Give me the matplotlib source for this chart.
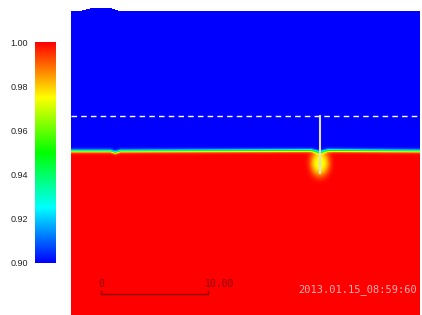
import numpy as np
import matplotlib
matplotlib.use("Agg")
import matplotlib.pyplot as plt
from matplotlib.colors import LinearSegmentedColormap

# domain, physical units (scale bar = 10.00)
domain_w = 32.6
domain_h = 29.44

# free surface (top of fluid)
surf_x = [0.0, 0.84, 1.78, 2.71, 3.64, 4.39, 32.6]
surf_h = [28.41, 28.46, 28.69, 28.76, 28.74, 28.50, 28.50]

# interface between the two fluids
intf_x = [0.0, 3.64, 4.11, 4.58, 22.5, 23.27, 24.0, 32.6]
intf_h = [15.33, 15.33, 15.19, 15.33, 15.38, 15.2, 15.38, 15.33]

# mixed plume below the interface
plume_x = 23.27
plume_y = 14.2
plume_depth = 0.026

# probe / guide lines
probe_level = 18.6
probe_bottom = 13.28

vmin, vmax = 0.90, 1.00
cbar_ticks = [0.90, 0.92, 0.94, 0.96, 0.98, 1.00]
stamp = "2013.01.15_08:59:60"

cmap = LinearSegmentedColormap.from_list(
    "rainbow5", ["#0000ff", "#00ffff", "#00ff00", "#ffff00", "#ff0000"])
cmap.set_bad("white")

nx, ny = 349, 315
xs = np.linspace(0, domain_w, nx)
ys = np.linspace(0, domain_h, ny)
X, Y = np.meshgrid(xs, ys)

h = np.interp(xs, intf_x, intf_h)[None, :]
top = np.interp(xs, surf_x, surf_h)[None, :]
field = vmin + (vmax - vmin) / (1 + np.exp(-(h - Y) / 0.08))
r2 = ((X - plume_x) / 0.9) ** 2 + ((Y - plume_y) / 1.25) ** 2
field = field - plume_depth * np.exp(-r2 ** 1.5) * (Y < h)
field = np.where(Y > top, np.nan, field)

fig = plt.figure(figsize=(4.22, 3.15), dpi=100)
ax = fig.add_axes([71 / 422, 0, 349 / 422, 1])
ax.imshow(field, origin="lower", extent=[0, domain_w, 0, domain_h],
          cmap=cmap, vmin=vmin, vmax=vmax, aspect="auto", interpolation="bilinear")
ax.set_xlim(0, domain_w)
ax.set_ylim(0, domain_h)
ax.axis("off")

ax.axhline(probe_level, color="white", lw=1, ls=(0, (4, 3)))
ax.plot([plume_x, plume_x], [probe_level, probe_bottom], color="#dddddd", lw=1.5)

# scale bar
sb0, sb1, sby = 2.8, 12.8, 1.96
ax.plot([sb0, sb0, sb1, sb1], [sby + 0.3, sby, sby, sby + 0.3], color="#8b0000", lw=1)
ax.text(sb0, sby + 0.45, "0", color="#8b0000", fontsize=7, family="DejaVu Sans Mono",
        ha="center", va="bottom")
ax.text(sb1 - 0.3, sby + 0.45, "10.00", color="#8b0000", fontsize=7,
        family="DejaVu Sans Mono", ha="left", va="bottom")
ax.text(26.8, 2.34, stamp, color="#ffb0b0", fontsize=7.5, family="DejaVu Sans Mono",
        ha="center", va="center")

# colour bar
cax = fig.add_axes([35 / 422, 52 / 315, 21 / 422, 221 / 315])
grad = np.linspace(vmin, vmax, 256)[:, None]
cax.imshow(grad, origin="lower", extent=[0, 1, vmin, vmax], cmap=cmap,
           vmin=vmin, vmax=vmax, aspect="auto")
cax.set_xticks([])
cax.set_yticks(cbar_ticks)
cax.set_yticklabels(["%.2f" % t for t in cbar_ticks], fontsize=6.5,
                    color="#222222", family="Liberation Sans")
cax.tick_params(axis="y", length=0, pad=5)
for s in cax.spines.values():
    s.set_visible(False)

fig.savefig("out.png", dpi=100)
